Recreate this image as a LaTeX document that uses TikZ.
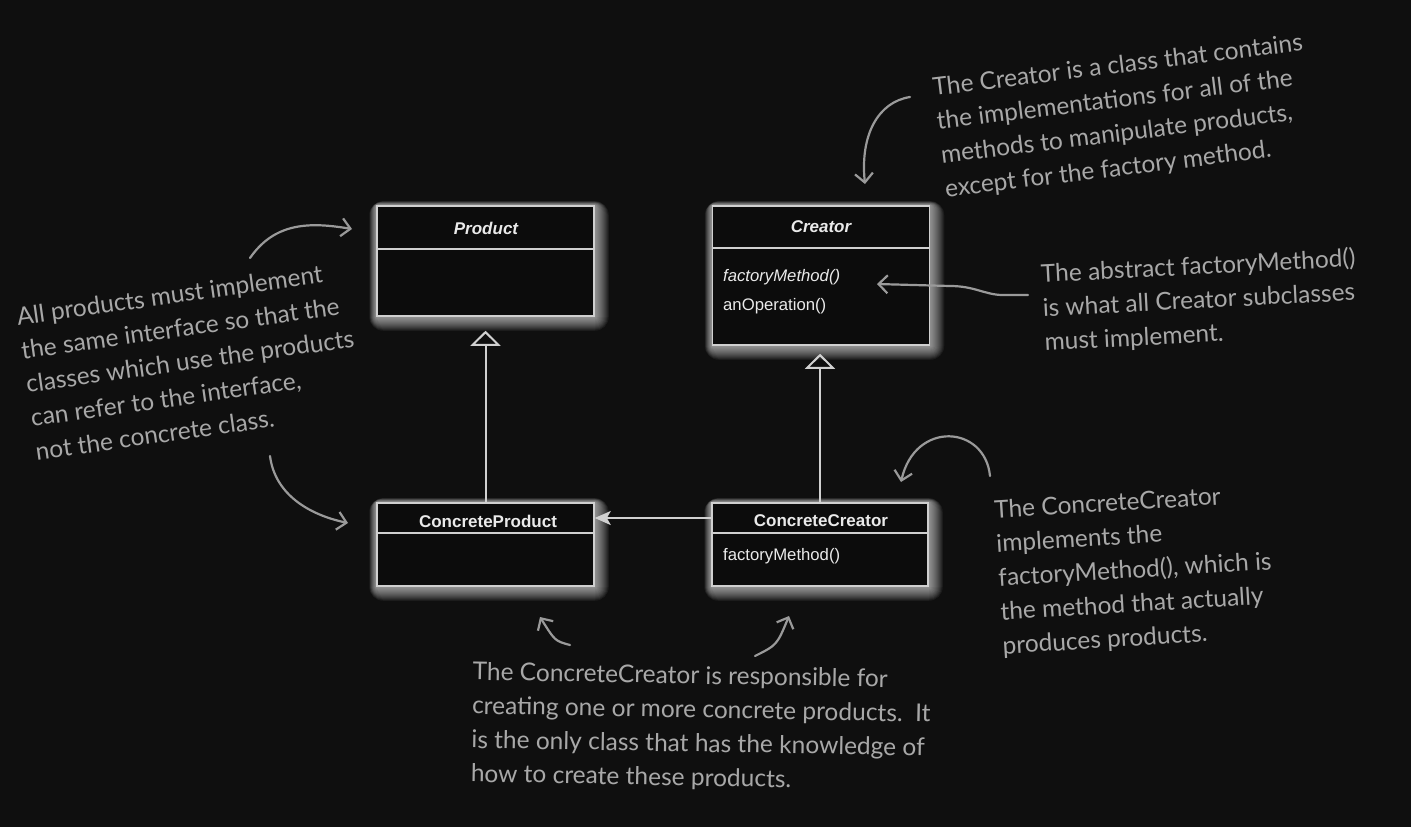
\documentclass[tikz,border=0pt]{standalone}
\usepackage{fontspec}
\setmainfont{Liberation Sans}
\newfontfamily\notefont{Lato}
\usetikzlibrary{arrows.meta,backgrounds}
\definecolor{bgc}{HTML}{0F0F0F}
\definecolor{boxfill}{HTML}{0C0C0C}
\definecolor{boxline}{HTML}{D0D0D0}
\definecolor{boxtext}{HTML}{EAEAEA}
\definecolor{notec}{HTML}{A8A8A8}
\definecolor{arrc}{HTML}{9A9A9A}
\newcommand{\glowof}[1]{%
  \foreach \k in {1,...,14}{%
    \fill[white,opacity=0.055,rounded corners={\k*1pt}]
      ([xshift={-0.5*\k*1pt},yshift={0.3*\k*1pt}]#1.north west) rectangle
      ([xshift={\k*1pt},yshift={-\k*1pt}]#1.south east);}}
\tikzset{
  umlbox/.style={draw=boxline,fill=boxfill,line width=1.5pt,inner sep=0pt,rectangle},
  title/.style={text=boxtext,font=\fontsize{17}{19}\selectfont\bfseries,inner sep=0pt},
  meth/.style={text=boxtext,font=\fontsize{16.7}{19}\selectfont,inner sep=0pt,anchor=west},
  divider/.style={draw=boxline,line width=1.5pt},
  inh/.style={draw=boxline,line width=2pt,-{Triangle[open,length=15pt,width=30pt,line width=2pt]}},
  assoc/.style={draw=boxline,line width=2.5pt,-{Stealth[length=16pt,width=14pt,inset=4pt]}},
  note/.style={text=notec,font=\notefont\fontsize{24.5}{34}\selectfont,align=left,inner sep=0pt},
  notearrow/.style={draw=arrc,line width=2.2pt,line cap=round,-{Straight Barb[length=9pt,width=18pt,line width=2.2pt]}}
}
\begin{document}
\begin{tikzpicture}[x=1pt,y=-1pt]
\useasboundingbox (0,0) rectangle (1411,827);
% boxes
\node[umlbox,minimum width=217pt,minimum height=110pt] (product) at (485.5,261) {};
\node[umlbox,minimum width=217pt,minimum height=139pt] (creator) at (821,275.5) {};
\node[umlbox,minimum width=217pt,minimum height=83pt] (cproduct) at (485.5,544.5) {};
\node[umlbox,minimum width=216pt,minimum height=83pt] (ccreator) at (820,544.5) {};
% dividers
\draw[divider] (product.west |- 0,249) -- (product.east |- 0,249);
\draw[divider] (creator.west |- 0,248) -- (creator.east |- 0,248);
\draw[divider] (cproduct.west |- 0,533) -- (cproduct.east |- 0,533);
\draw[divider] (ccreator.west |- 0,533) -- (ccreator.east |- 0,533);
% titles
\node[title,font=\fontsize{17}{19}\selectfont\bfseries\itshape] (ptitle) at (486,228) {Product};
\node[title,font=\fontsize{17}{19}\selectfont\bfseries\itshape] (crtitle) at (821,227) {Creator};
\node[title] (cptitle) at (488,521) {ConcreteProduct};
\node[title] (cctitle) at (821,521) {ConcreteCreator};
% methods
\node[meth,font=\fontsize{16.7}{19}\selectfont\itshape] (fm) at (723,277) {factoryMethod()};
\node[meth] (op) at (723,306) {anOperation()};
\node[meth] (ccfm) at (723,556) {factoryMethod()};
% relations
\draw[inh,shorten >=14pt] (cproduct.north) -- (product.south);
\draw[inh,shorten >=8pt] (ccreator.north) -- (ccreator.north |- creator.south);
\coordinate (assocy) at (0,518);
\draw[assoc] (ccreator.west |- assocy) -- (cproduct.east |- assocy);
% notes
\node[note,rotate=7] (n1) at (1124,117) {The Creator is a class that contains\\the implementations for all of the\\methods to manipulate products,\\except for the factory method.};
\node[note,rotate=8] (n2) at (190,361) {All products must implement\\the same interface so that the\\classes which use the products\\can refer to the interface,\\not the concrete class.};
\node[note,rotate=3] (n3) at (1200,301) {The abstract factoryMethod()\\is what all Creator subclasses\\must implement.};
\node[note,rotate=3.5] (n4) at (1135,571) {The ConcreteCreator\\implements the\\factoryMethod(), which is\\the method that actually\\produces products.};
\node[note,rotate=-1] (n5) at (701,728) {The ConcreteCreator is responsible for\\creating one or more concrete products.\ \ It\\is the only class that has the knowledge of\\how to create these products.};
% note arrows
\coordinate (a1s) at (910,97);   \coordinate (a1e) at (865,184);
\coordinate (a2s) at (250,258);  \coordinate (a2e) at (352,229);
\coordinate (a3s) at (270,456);  \coordinate (a3e) at (348,523);
\coordinate (a4s) at (1028,295); \coordinate (a4e) at (877,284);
\coordinate (a5s) at (990,476);  \coordinate (a5e) at (901,482);
\coordinate (a6s) at (570,645);  \coordinate (a6e) at (540,617);
\coordinate (a7s) at (755,656);  \coordinate (a7e) at (789,616);
\draw[notearrow] (a1s) .. controls (878,102) and (860,135) .. (a1e);
\draw[notearrow] (a2s) .. controls (275,222) and (310,222) .. (a2e);
\draw[notearrow] (a3s) .. controls (275,495) and (310,515) .. (a3e);
\draw[notearrow] (a4s) -- (1003,295) .. controls (985,295) and (975,286) .. (950,286) -- (a4e);
\draw[notearrow] (a5s) .. controls (985,425) and (915,420) .. (a5e);
\draw[notearrow] (a6s) .. controls (555,641) .. (a6e);
\draw[notearrow] (a7s) .. controls (777,645) .. (a7e);
% background and glow
\begin{pgfonlayer}{background}
\fill[bgc] (0,0) rectangle (1411,827);
\glowof{product}
\glowof{creator}
\glowof{cproduct}
\glowof{ccreator}
\end{pgfonlayer}
\end{tikzpicture}
\end{document}
